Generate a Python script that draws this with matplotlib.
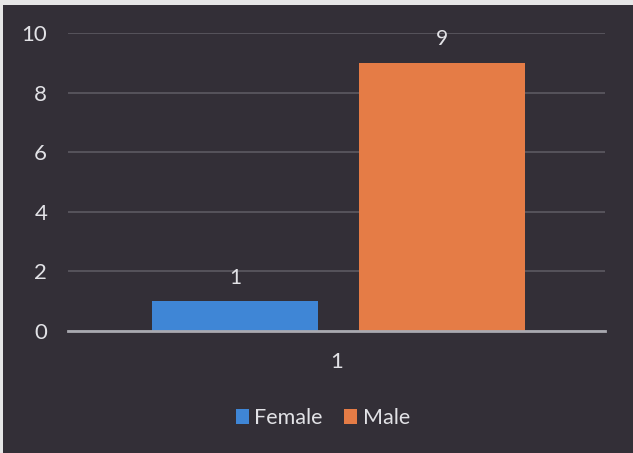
import matplotlib
matplotlib.use("Agg")
import matplotlib.pyplot as plt
from matplotlib.patches import Rectangle

categories = ["1"]
series_names = ["Female", "Male"]
series_values = [[1], [9]]
colors = ["#3f86d6", "#e57c46"]
yticks = [0, 2, 4, 6, 8, 10]

plt.rcParams['font.family'] = ['Lato', 'DejaVu Sans']

fig = plt.figure(figsize=(6.33, 4.53), dpi=100)
fig.patch.set_facecolor("#e6e6e6")
bg = Rectangle((0.004, 0), 0.996, 0.99, transform=fig.transFigure,
               facecolor="#332f37", edgecolor="none", zorder=-10)
fig.patches.append(bg)

ax = fig.add_axes([68/633, 1-331/453, 537/633, (331-33)/453])
ax.set_zorder(5)
ax.set_facecolor("none")

offsets = [-0.378, 0.393]
width = 0.62
text_color = "#e2e2e6"
for i, (name, vals) in enumerate(zip(series_names, series_values)):
    xs = [j + offsets[i] for j in range(len(categories))]
    bars = ax.bar(xs, vals, width=width, color=colors[i], label=name, zorder=3)
    for b, v in zip(bars, vals):
        ax.text(b.get_x() + b.get_width()/2, v + 0.45, str(v), ha="center",
                va="bottom", color=text_color, fontsize=15)

ax.set_xlim(-1, 1)
ax.set_ylim(0, 10)
ax.set_yticks(yticks)
ax.set_yticklabels([str(t) for t in yticks], fontsize=16, color=text_color)
ax.set_xticks(range(len(categories)))
ax.set_xticklabels(categories, fontsize=16, color=text_color)
ax.tick_params(axis="both", length=0)
ax.tick_params(axis="y", pad=15)
ax.tick_params(axis="x", pad=15)
ax.yaxis.grid(True, color="#5d5a62", linewidth=1.2, zorder=0)
ax.set_axisbelow(True)
for s in ["top", "right", "left"]:
    ax.spines[s].set_visible(False)
ax.spines["bottom"].set_color("#a9a9b0")
ax.spines["bottom"].set_linewidth(2)
ax.spines["bottom"].set_zorder(4)

leg = ax.legend(loc="upper center", bbox_to_anchor=(0.475, -0.195), ncol=2,
                frameon=False, fontsize=15.5, handlelength=0.6, handleheight=0.7,
                handletextpad=0.25, columnspacing=1.0, labelcolor=text_color)

fig.savefig("out.png", dpi=100, facecolor=fig.get_facecolor())
